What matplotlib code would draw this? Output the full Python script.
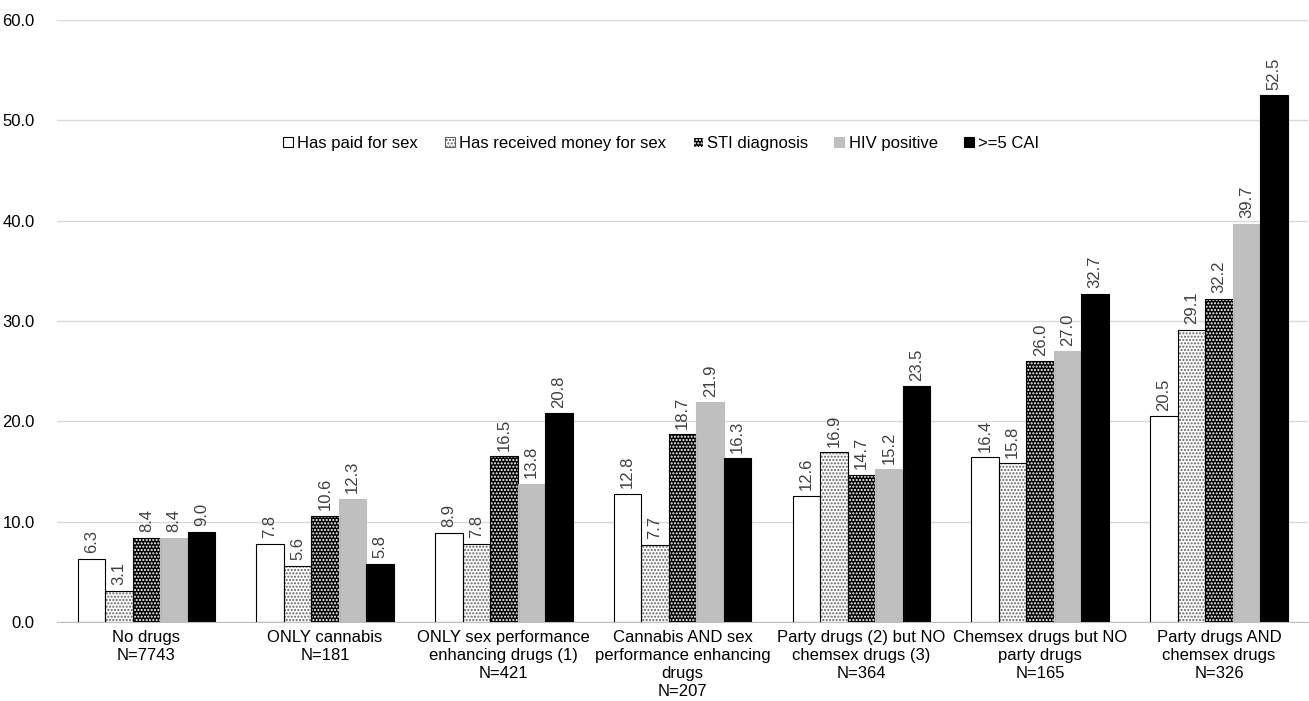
import numpy as np
import matplotlib.pyplot as plt

plt.rcParams['font.family'] = ['Liberation Sans', 'DejaVu Sans']

categories = ["No drugs\nN=7743",
              "ONLY cannabis\nN=181",
              "ONLY sex performance\nenhancing drugs (1)\nN=421",
              "Cannabis AND sex\nperformance enhancing\ndrugs\nN=207",
              "Party drugs (2) but NO\nchemsex drugs (3)\nN=364",
              "Chemsex drugs but NO\nparty drugs\nN=165",
              "Party drugs AND\nchemsex drugs\nN=326"]
series = ["Has paid for sex", "Has received money for sex", "STI diagnosis",
          "HIV positive", ">=5 CAI"]
paid = [6.3, 7.8, 8.9, 12.8, 12.6, 16.4, 20.5]
received = [3.1, 5.6, 7.8, 7.7, 16.9, 15.8, 29.1]
sti = [8.4, 10.6, 16.5, 18.7, 14.7, 26.0, 32.2]
hiv = [8.4, 12.3, 13.8, 21.9, 15.2, 27.0, 39.7]
cai = [9.0, 5.8, 20.8, 16.3, 23.5, 32.7, 52.5]
values = [paid, received, sti, hiv, cai]

# stil slupkow: (kolor, kolor kreskowania, kreskowanie, obramowanie)
styles = [("white", "black", None, "black"),
          ("white", "#606060", ".....", "black"),
          ("black", "white", ".....", "black"),
          ("#bfbfbf", "#bfbfbf", None, "#bfbfbf"),
          ("black", "black", None, "black")]

fig = plt.figure(figsize=(13.09, 7.01), dpi=100)
ax = fig.add_axes([0.0435, 0.1127, 0.956, 0.8588])

x = np.arange(len(categories))
w = 0.154
for i, (vals, (fc, hc, hatch, ec)) in enumerate(zip(values, styles)):
    pos = x + (i - 2) * w
    ax.bar(pos, vals, w, color=fc, edgecolor=hc, hatch=hatch, linewidth=0, zorder=2)
    ax.bar(pos, vals, w, fill=False, edgecolor=ec, linewidth=0.8, zorder=3)
    for p, v in zip(pos, vals):
        ax.text(p, v + 0.55, f"{v:.1f}", rotation=90, ha="center", va="bottom",
                fontsize=12, color="#404040")

# legenda z uchwytami z kolorami
handles = []
for fc, hc, hatch, ec in styles:
    h = plt.Rectangle((0, 0), 1, 1, facecolor=fc, edgecolor=hc if hatch else ec,
                      hatch=hatch, linewidth=0.8)
    handles.append(h)
ax.legend(handles, series, loc="center", bbox_to_anchor=(0.483, 0.795), ncol=5,
          frameon=False, fontsize=12, handlelength=0.6, handleheight=0.6,
          handletextpad=0.25, columnspacing=1.6)

ax.set_xlim(-0.5, 6.5)
ax.set_ylim(0, 60)
ax.set_yticks(np.arange(0, 61, 10))
ax.set_yticklabels([f"{t:.1f}" for t in np.arange(0, 61, 10)], fontsize=12)
ax.set_xticks(x)
ax.set_xticklabels(categories, fontsize=12, linespacing=1.25)
ax.tick_params(length=0)
ax.tick_params(axis="x", pad=6)
ax.tick_params(axis="y", pad=16)
ax.grid(axis="y", color="#d9d9d9", linewidth=1, zorder=0)
ax.set_axisbelow(True)
for s in ["top", "right", "left"]:
    ax.spines[s].set_visible(False)
ax.spines["bottom"].set_color("#bfbfbf")

plt.savefig("out.png", dpi=100)
